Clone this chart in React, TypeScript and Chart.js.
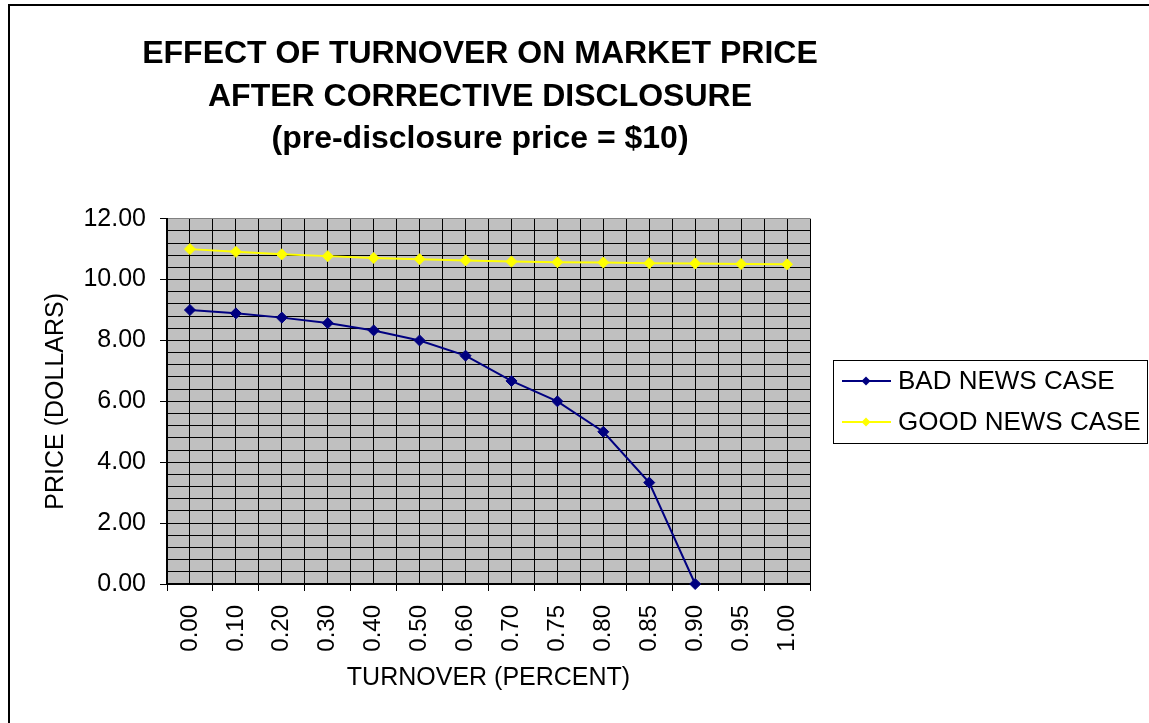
import React, { useEffect, useRef } from "react";
import { Chart, registerables } from "chart.js";

Chart.register(...registerables);

const turnoverLabels = ["0.00", "0.10", "0.20", "0.30", "0.40", "0.50", "0.60", "0.70", "0.75", "0.80", "0.85", "0.90", "0.95", "1.00"];
const badNewsPrices = [9.0, 8.89, 8.75, 8.57, 8.33, 8.0, 7.5, 6.67, 6.0, 5.0, 3.33, 0.0, null, null];
const goodNewsPrices = [11.0, 10.91, 10.83, 10.77, 10.71, 10.67, 10.63, 10.59, 10.57, 10.56, 10.54, 10.53, 10.51, 10.5];
const seriesNames = ["BAD NEWS CASE", "GOOD NEWS CASE"];
const titleLines = ["EFFECT OF TURNOVER ON MARKET PRICE", "AFTER CORRECTIVE DISCLOSURE", "(pre-disclosure price = $10)"];
const xTitle = "TURNOVER (PERCENT)";
const yTitle = "PRICE (DOLLARS)";

const FONT = "'Liberation Sans', Arial, Helvetica, sans-serif";

const framePlugin = {
  id: "frame",
  afterLayout(chart: any) {
    const t = chart.titleBlock;
    if (t) {
      t.left = 80;
      t.right = 880;
      t.width = 800;
    }
  },
  beforeDraw(chart: any) {
    const { ctx, chartArea } = chart;
    ctx.save();
    ctx.fillStyle = "#ffffff";
    ctx.fillRect(0, 0, chart.width, chart.height);
    ctx.strokeStyle = "#000000";
    ctx.lineWidth = 2;
    ctx.strokeRect(9, 5, chart.width + 20, chart.height + 20);
    ctx.fillStyle = "#c0c0c0";
    ctx.fillRect(chartArea.left, chartArea.top, chartArea.right - chartArea.left, chartArea.bottom - chartArea.top);
    ctx.restore();
  },
};

const legendPlugin = {
  id: "boxLegend",
  afterDraw(chart: any) {
    const ctx = chart.ctx;
    ctx.save();
    ctx.strokeStyle = "#000000";
    ctx.lineWidth = 1;
    ctx.strokeRect(833.5, 360.5, 314, 83);
    chart.data.datasets.forEach((ds: any, i: number) => {
      const cy = 381 + i * 41;
      ctx.strokeStyle = ds.borderColor;
      ctx.lineWidth = 2;
      ctx.beginPath();
      ctx.moveTo(842, cy);
      ctx.lineTo(891, cy);
      ctx.stroke();
      ctx.fillStyle = ds.borderColor;
      ctx.beginPath();
      ctx.moveTo(866, cy - 4.5);
      ctx.lineTo(870.5, cy);
      ctx.lineTo(866, cy + 4.5);
      ctx.lineTo(861.5, cy);
      ctx.closePath();
      ctx.fill();
      ctx.fillStyle = "#000000";
      ctx.font = `26px ${FONT}`;
      ctx.textBaseline = "middle";
      ctx.textAlign = "left";
      ctx.fillText(ds.label, 898, cy + 1);
    });
    ctx.restore();
  },
};

export default function App() {
  const canvasRef = useRef<HTMLCanvasElement | null>(null);

  useEffect(() => {
    if (!canvasRef.current) return;
    const topGrey = (ctx: any) => (ctx.tick && ctx.tick.value === 12 ? "#808080" : "#000000");
    const chart = new Chart(canvasRef.current, {
      type: "line",
      data: {
        labels: turnoverLabels,
        datasets: [
          {
            label: seriesNames[0],
            data: badNewsPrices,
            borderColor: "#000080",
            backgroundColor: "#000080",
            borderWidth: 2,
            pointStyle: "rectRot",
            pointRadius: 5.5,
            pointBorderWidth: 1,
            pointBorderColor: "#000080",
            tension: 0,
            spanGaps: false,
            clip: false,
          },
          {
            label: seriesNames[1],
            data: goodNewsPrices,
            borderColor: "#ffff00",
            backgroundColor: "#ffff00",
            borderWidth: 2,
            pointStyle: "rectRot",
            pointRadius: 5.5,
            pointBorderWidth: 1,
            pointBorderColor: "#ffff00",
            tension: 0,
            clip: false,
          },
        ],
      },
      options: {
        responsive: false,
        animation: false,
        layout: { padding: { left: 0, right: 339, top: 0, bottom: 0 } },
        plugins: {
          legend: { display: false },
          tooltip: { enabled: false },
          title: {
            display: true,
            text: titleLines,
            fullSize: false,
            color: "#000000",
            font: { family: FONT, size: 32, weight: "bold", lineHeight: 1.33 },
            padding: { top: 33, bottom: 58 },
          },
        },
        scales: {
          x: {
            type: "category",
            position: "bottom",
            offset: true,
            grid: {
              offset: true,
              color: (ctx: any) => (ctx.index === turnoverLabels.length ? "#808080" : "#000000"),
              lineWidth: 1,
              drawTicks: true,
              tickLength: 7,
              tickColor: "#000000",
            },
            border: { display: true, color: "#000000", width: 2 },
            ticks: {
              autoSkip: false,
              minRotation: 90,
              maxRotation: 90,
              padding: 14,
              color: "#000000",
              font: { family: FONT, size: 24 },
            },
            title: {
              display: true,
              text: xTitle,
              color: "#000000",
              font: { family: FONT, size: 25 },
              padding: { top: 0, bottom: 30 },
            },
            afterFit: (s: any) => {
              s.height = 139;
            },
          },
          x2: {
            type: "category",
            position: "bottom",
            offset: true,
            grid: { offset: false, color: "#000000", lineWidth: 1, drawTicks: false },
            border: { display: false },
            ticks: { display: false },
            afterFit: (s: any) => {
              s.height = 0;
            },
          },
          y: {
            type: "linear",
            position: "left",
            min: 0,
            max: 12,
            grid: { color: topGrey, lineWidth: 1, drawTicks: true, tickLength: 7, tickColor: "#000000" },
            border: { display: true, color: "#000000", width: 2 },
            ticks: {
              stepSize: 2,
              padding: 14,
              color: "#000000",
              font: { family: FONT, size: 25 },
              callback: (v: any) => Number(v).toFixed(2),
            },
            title: {
              display: true,
              text: yTitle,
              color: "#000000",
              font: { family: FONT, size: 25 },
              padding: { top: 41, bottom: 0 },
            },
            afterFit: (s: any) => {
              s.width = 167;
            },
          },
          y2: {
            type: "linear",
            position: "left",
            min: 0,
            max: 12,
            grid: { color: topGrey, lineWidth: 1, drawTicks: false },
            border: { display: false },
            ticks: { display: false, stepSize: 0.4 },
            afterFit: (s: any) => {
              s.width = 0;
            },
          },
        },
      },
      plugins: [framePlugin, legendPlugin],
    } as any);
    return () => chart.destroy();
  }, []);

  return (
    <div style={{ position: "absolute", left: 0, top: 0, width: 1149, height: 723 }}>
      <canvas ref={canvasRef} width={1149} height={723} style={{ width: 1149, height: 723, display: "block" }} />
    </div>
  );
}
